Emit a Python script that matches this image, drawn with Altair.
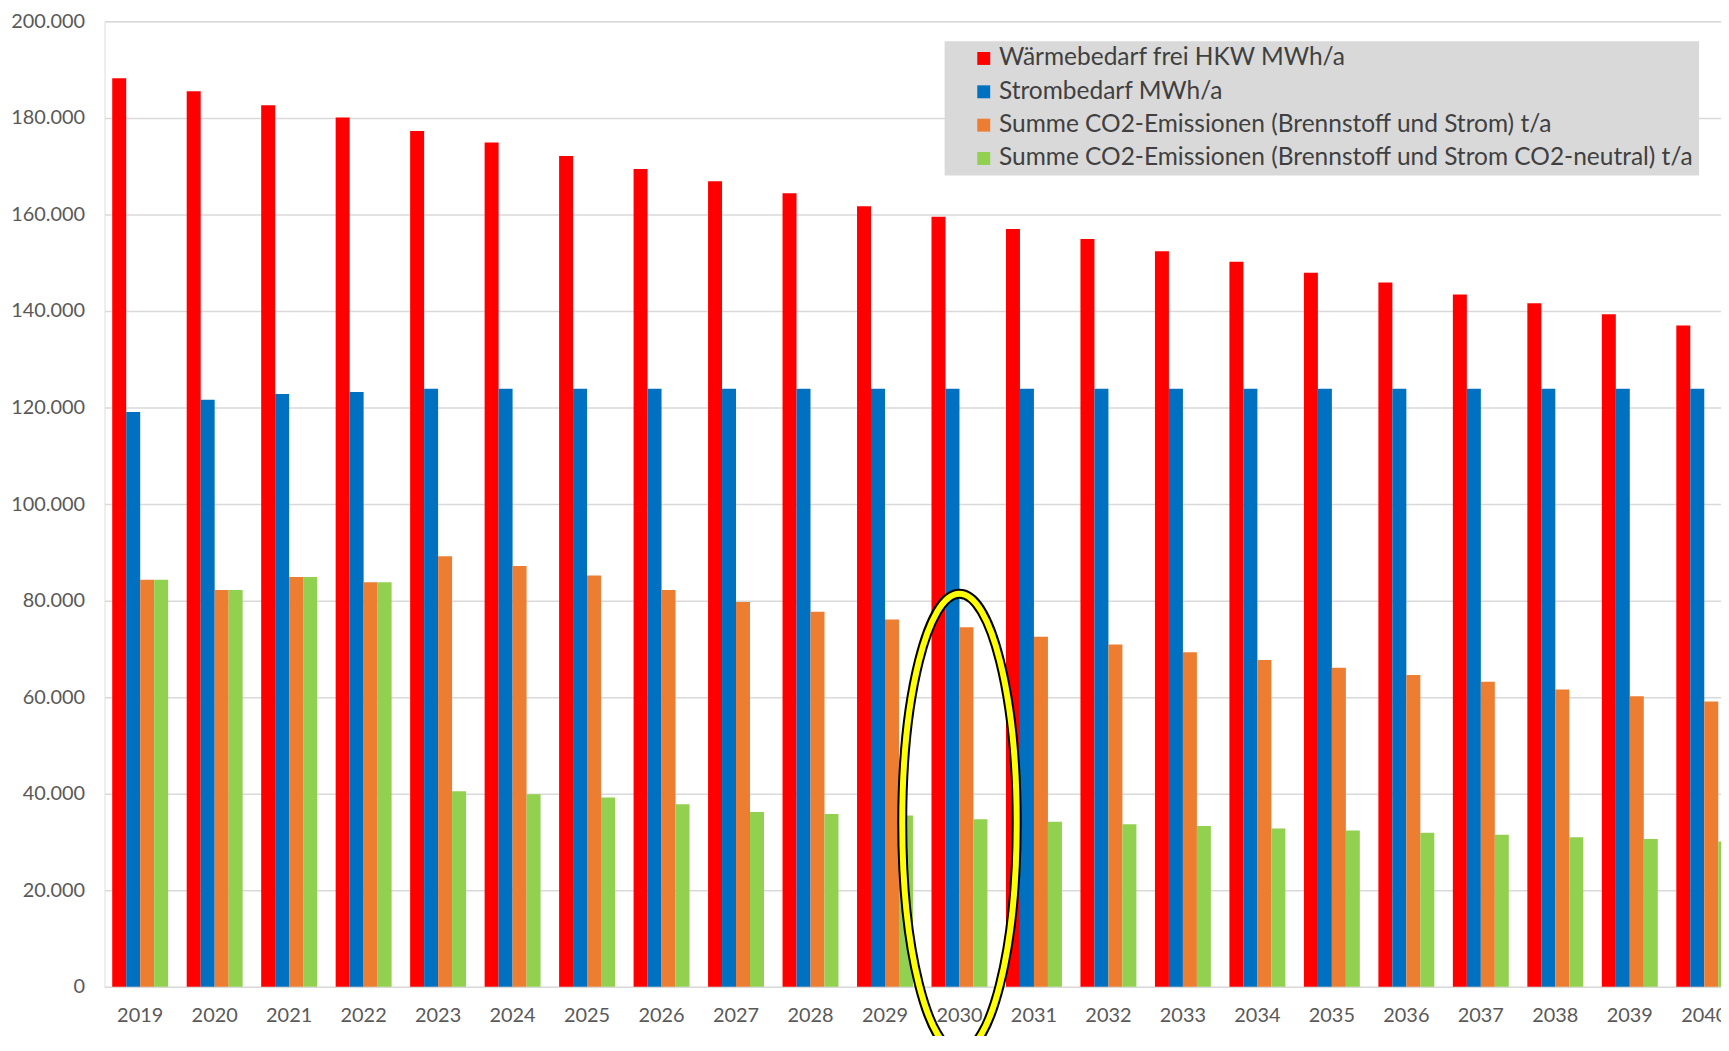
import altair as alt
import pandas as pd

years = [str(y) for y in range(2019, 2041)]

series = [
    "Wärmebedarf frei HKW MWh/a",
    "Strombedarf MWh/a",
    "Summe CO2-Emissionen (Brennstoff und Strom) t/a",
    "Summe CO2-Emissionen (Brennstoff und Strom CO2-neutral) t/a",
]
colors = ["#FF0000", "#0070C0", "#ED7D31", "#92D050"]

waerme = [188200, 185500, 182600, 180100, 177300, 174900, 172100, 169400, 166900, 164400, 161700,
          159500, 157000, 154900, 152400, 150200, 147900, 145900, 143400, 141600, 139300, 137000]
strom = [119100, 121600, 122800, 123200, 123900, 123900, 123900, 123900, 123900, 123900, 123900,
         123900, 123900, 123900, 123900, 123900, 123900, 123900, 123900, 123900, 123900, 123900]
co2 = [84300, 82200, 84900, 83800, 89200, 87200, 85200, 82200, 79700, 77700, 76100,
       74500, 72500, 70900, 69300, 67700, 66100, 64600, 63200, 61600, 60200, 59100]
co2_neutral = [84300, 82200, 84900, 83800, 40500, 39900, 39200, 37800, 36200, 35800, 35500,
               34700, 34200, 33700, 33300, 32800, 32400, 31900, 31500, 31000, 30600, 30100]

y_ticks = [0, 20000, 40000, 60000, 80000, 100000, 120000, 140000, 160000, 180000, 200000]

# highlight annotation (ellipse around 2030)
highlight_year = ["2030"]
highlight_value = [34000]

rows = []
for name, vals in zip(series, [waerme, strom, co2, co2_neutral]):
    for yr, v in zip(years, vals):
        rows.append({"year": yr, "series": name, "value": v})
df = pd.DataFrame(rows)
hl = pd.DataFrame({"year": highlight_year, "value": highlight_value})

x_enc = alt.X(
    "year:N",
    sort=years,
    scale=alt.Scale(range=[0, 1643], paddingInner=0.249, paddingOuter=0.103),
    axis=alt.Axis(title=None, labelAngle=0, ticks=False, domain=False, grid=False,
                  labelFontSize=20, labelColor="#595959", labelPadding=19, labelFont="Lato"),
)
y_enc = alt.Y(
    "value:Q",
    scale=alt.Scale(domain=[0, 200000], nice=False),
    axis=alt.Axis(title=None, values=y_ticks, domain=False, ticks=False,
                  labelExpr="replace(format(datum.value, ','), ',', '.')",
                  gridColor="#d9d9d9", gridWidth=1.5,
                  labelFontSize=20, labelColor="#595959", labelPadding=20, labelFont="Lato"),
)

bars = alt.Chart(df).mark_bar().encode(
    x=x_enc,
    y=y_enc,
    xOffset=alt.XOffset("series:N", sort=series, scale=alt.Scale(paddingInner=0, paddingOuter=0)),
    color=alt.Color(
        "series:N",
        scale=alt.Scale(domain=series, range=colors),
        legend=alt.Legend(
            title=None, orient="none", legendX=844, legendY=20,
            fillColor="#d9d9d9", padding=5, symbolOffset=22,
            symbolType="square", symbolSize=169, symbolStrokeWidth=0,
            labelFontSize=24.6, labelColor="#404040", labelLimit=1000, labelOffset=3,
            rowPadding=8.5, labelFont="Lato",
        ),
    ),
)

ellipse_path = ("M0,-1 C0.138,-1 0.25,-0.5523 0.25,0 C0.25,0.5523 0.138,1 0,1 "
                "C-0.138,1 -0.25,0.5523 -0.25,0 C-0.25,-0.5523 -0.138,-1 0,-1 Z")

ring_outer = alt.Chart(hl).mark_point(
    shape=ellipse_path, size=211600, filled=False, stroke="black", strokeWidth=10, opacity=1
).encode(x=alt.X("year:N", sort=years), y=alt.Y("value:Q"))

ring_inner = alt.Chart(hl).mark_point(
    shape=ellipse_path, size=211600, filled=False, stroke="#FFFF00", strokeWidth=6, opacity=1
).encode(x=alt.X("year:N", sort=years), y=alt.Y("value:Q"))

chart = alt.layer(bars, ring_outer, ring_inner).properties(
    width=1624,
    height=970,
    autosize=alt.AutoSizeParams(type="none"),
    padding={"left": 97, "top": 11, "right": 0, "bottom": 47},
).configure_view(strokeWidth=0).configure(font="Lato")

chart.save("out.html", embed_options={"renderer": "svg", "actions": False})
